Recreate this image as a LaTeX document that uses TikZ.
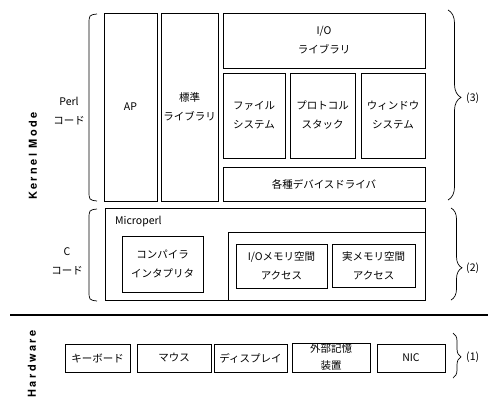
\documentclass[tikz,border=0pt]{standalone}
\usepackage{fontspec}
\setmainfont{Noto Sans CJK JP}
\newfontfamily\modefont[LetterSpace=22]{TeX Gyre Heros}
\usetikzlibrary{decorations.pathreplacing}
\begin{document}
\begin{tikzpicture}[x=1pt,y=-1pt,
  bx/.style={draw,line width=0.8pt,inner sep=0pt,align=center,
    font=\fontsize{10.5}{19}\selectfont},
  lbl/.style={inner sep=0pt,align=center,font=\fontsize{10.5}{19}\selectfont},
  modelbl/.style={inner sep=0pt,rotate=90,font=\modefont\bfseries\fontsize{11}{13}\selectfont},
  paren/.style={line width=0.7pt},
  brc/.style={line width=0.7pt,decorate,decoration={brace,amplitude=7pt}}]
\useasboundingbox (0,0) rectangle (493,397);
% upper (Perl) layer
\node[bx,minimum width=53pt,minimum height=188pt] (ap) at (130.5,107) {AP};
\node[bx,minimum width=57pt,minimum height=188pt] (std) at (189.5,107) {標準\\ライブラリ};
\node[bx,minimum width=202pt,minimum height=55pt] (iolib) at (324,40.5) {I/O\\ライブラリ};
\node[bx,minimum width=62pt,minimum height=85pt] (fs) at (254,115.5) {ファイル\\システム};
\node[bx,minimum width=65pt,minimum height=85pt] (ps) at (322.5,115.5) {プロトコル\\スタック};
\node[bx,minimum width=64pt,minimum height=85pt] (ws) at (393,115.5) {ウィンドウ\\システム};
\node[bx,minimum width=202pt,minimum height=34pt] (dd) at (324,184) {各種デバイスドライバ};
% Microperl layer
\node[bx,minimum width=320pt,minimum height=92pt] (mp) at (265,254) {};
\node[lbl,anchor=west] (mpl) at (115,222) {Microperl};
\node[bx,minimum width=81pt,minimum height=56pt] (ci) at (162.5,264) {コンパイラ\\インタプリタ};
\node[bx,minimum width=197pt,minimum height=68pt] (inner) at (326.5,266) {};
\node[bx,minimum width=91pt,minimum height=44pt] (iom) at (281.5,266) {I/Oメモリ空間\\アクセス};
\node[bx,minimum width=83pt,minimum height=43pt] (rm) at (373.5,265.5) {実メモリ空間\\アクセス};
% separator
\coordinate (sepl) at (10,315);
\coordinate (sepr) at (488,315);
\draw[line width=2.6pt] (sepl) -- (sepr);
% hardware
\node[bx,minimum width=65pt,minimum height=28pt] (kb) at (97.5,358) {キーボード};
\node[bx,minimum width=74pt,minimum height=28pt] (ms) at (174,358) {マウス};
\node[bx,minimum width=73pt,minimum height=28pt] (dp) at (250.5,358) {ディスプレイ};
\node[bx,minimum width=78pt,minimum height=29pt,font=\fontsize{10.5}{17}\selectfont] (st) at (331,357.5) {外部記憶\\装置};
\node[bx,minimum width=68pt,minimum height=28pt] (nic) at (411,358) {NIC};
% left labels
\node[modelbl] (km) at (33,156) {Kernel Mode};
\node[modelbl] (hw) at (32,364) {Hardware};
\node[lbl] (perl) at (69,111.5) {Perl\\コード};
\node[lbl] (cc) at (67,261) {C\\コード};
% left parens
\coordinate (p1t) at (97,14);
\coordinate (p1b) at (97,201);
\coordinate (p2t) at (97,209);
\coordinate (p2b) at (97,301);
\draw[paren] (p1t) .. controls (89,15) .. (89,25) -- (89,190) .. controls (89,200) .. (p1b);
\draw[paren] (p2t) .. controls (89,210) .. (89,220) -- (89,290) .. controls (89,300) .. (p2b);
% right braces
\coordinate (b3t) at (448,10);
\coordinate (b3b) at (448,200);
\coordinate (b2t) at (451,208);
\coordinate (b2b) at (451,300);
\coordinate (b1t) at (453,333);
\coordinate (b1b) at (453,378);
\draw[brc,decoration={aspect=0.46,amplitude=13pt}] (b3t) -- (b3b);
\draw[brc,decoration={aspect=0.65,amplitude=11pt}] (b2t) -- (b2b);
\draw[brc,decoration={aspect=0.53,amplitude=8pt}] (b1t) -- (b1b);
\node[lbl,anchor=west] (l3) at (466,98) {(3)};
\node[lbl,anchor=west] (l2) at (466,268) {(2)};
\node[lbl,anchor=west] (l1) at (466,357) {(1)};
\end{tikzpicture}
\end{document}
